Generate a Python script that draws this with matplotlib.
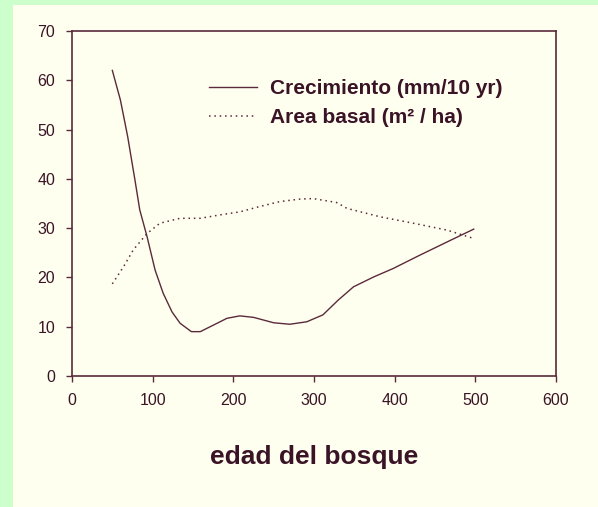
import matplotlib
matplotlib.use("Agg")
import matplotlib.pyplot as plt
from matplotlib.patches import Rectangle

plt.rcParams['font.family'] = ['Liberation Sans', 'DejaVu Sans']

# traced values
crec_x = [50, 60, 69, 78, 84, 93, 103, 113, 124, 134, 148, 159, 175, 192, 208, 225,
          250, 270, 291, 311, 330, 349, 374, 398, 431, 465, 498]
crec_y = [62, 56, 48.6, 39.8, 33.7, 28.3, 21.5, 16.8, 13, 10.7, 9.0, 9.0, 10.3, 11.7, 12.2, 11.9,
          10.8, 10.5, 11, 12.4, 15.4, 18.1, 20.1, 21.8, 24.5, 27.2, 29.8]
area_x = [50, 64, 76, 93, 109, 134, 159, 184, 208, 233, 258, 283, 299, 328, 341, 382,
          423, 465, 498]
area_y = [18.7, 22.2, 25.6, 28.9, 31, 32, 32, 32.7, 33.3, 34.4, 35.4, 35.9, 36, 35.2, 34, 32.3,
          31, 29.6, 27.9]

xticks = [0, 100, 200, 300, 400, 500, 600]
yticks = [0, 10, 20, 30, 40, 50, 60, 70]

line_c = '#5a2a3a'
text_c = '#3a1426'
cream = '#fffff0'
green = '#ccffcc'

fig = plt.figure(figsize=(5.98, 5.07), dpi=100, facecolor=green)
fig.patches.append(Rectangle((13/598, 0), 1, 1 - 5/507, transform=fig.transFigure,
                             facecolor=cream, edgecolor='none', zorder=-10))
ax = fig.add_axes([72/598, 1 - 376/507, 484/598, 345/507])
ax.set_facecolor(cream)

ax.plot(crec_x, crec_y, color=line_c, lw=1.0, label='Crecimiento (mm/10 yr)')
ax.plot(area_x, area_y, color=line_c, lw=1.1, ls=(0, (1, 2.5)), label='Area basal (m² / ha)')

ax.set_xlim(0, 600)
ax.set_ylim(0, 70)
ax.set_xticks(xticks)
ax.set_yticks(yticks)
ax.tick_params(axis='both', direction='out', length=4, width=1, color=line_c,
               labelsize=11.5, labelcolor=text_c)
ax.tick_params(axis='x', pad=8)
ax.tick_params(axis='y', pad=8)
for s in ax.spines.values():
    s.set_color(line_c)
    s.set_linewidth(1.2)

ax.set_xlabel('edad del bosque', fontsize=19, fontweight='bold', color=text_c, labelpad=27)

leg = ax.legend(loc='upper left', bbox_to_anchor=(0.283, 0.86), frameon=False,
                borderpad=0, borderaxespad=0, handlelength=2.3, handletextpad=0.62,
                labelspacing=0.47, prop={'size': 15, 'weight': 'bold'})
for t in leg.get_texts():
    t.set_color(text_c)

fig.savefig('out.png', dpi=100, facecolor=green)
